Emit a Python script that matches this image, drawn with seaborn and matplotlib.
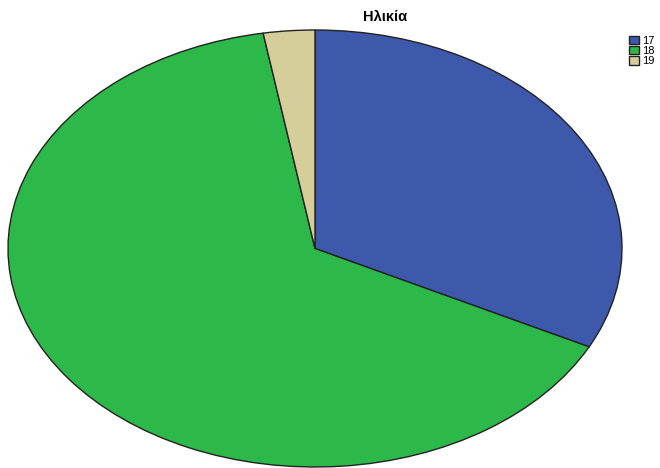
import matplotlib
matplotlib.use("Agg")
import matplotlib.pyplot as plt
import seaborn as sns

ages = ["17", "18", "19"]
counts = [12, 24, 1]
colors = ["#3e58ac", "#2db84a", "#d5ce9a"]

sns.set_style("white")
plt.rcParams["font.family"] = ["Liberation Sans", "DejaVu Sans"]
plt.rcParams["text.color"] = "black"

fig = plt.figure(figsize=(6.6, 4.68), dpi=100)
ax = fig.add_axes([8 / 660, 1 / 468, 614 / 660, 437 / 468])

wedges, _ = ax.pie(counts, colors=colors, startangle=90, counterclock=False,
                   wedgeprops=dict(edgecolor="#222222", linewidth=1.0))
for w in wedges:
    w.set_clip_on(False)
ax.set_aspect("auto")
ax.set_xlim(-1, 1)
ax.set_ylim(-1, 1)
ax.axis("off")

fig.text(385 / 660, 1 - 17 / 468, "Ηλικία", ha="center", va="center",
         fontsize=10.5, fontweight="bold", color="black")
fig.legend(wedges, ages, loc="upper left", bbox_to_anchor=(621 / 660, 1 - 28 / 468),
           frameon=False, fontsize=8, handlelength=0.9, handleheight=0.8,
           handletextpad=0.3, labelspacing=0.0, borderpad=0.2)

fig.savefig("out.png", dpi=100)
